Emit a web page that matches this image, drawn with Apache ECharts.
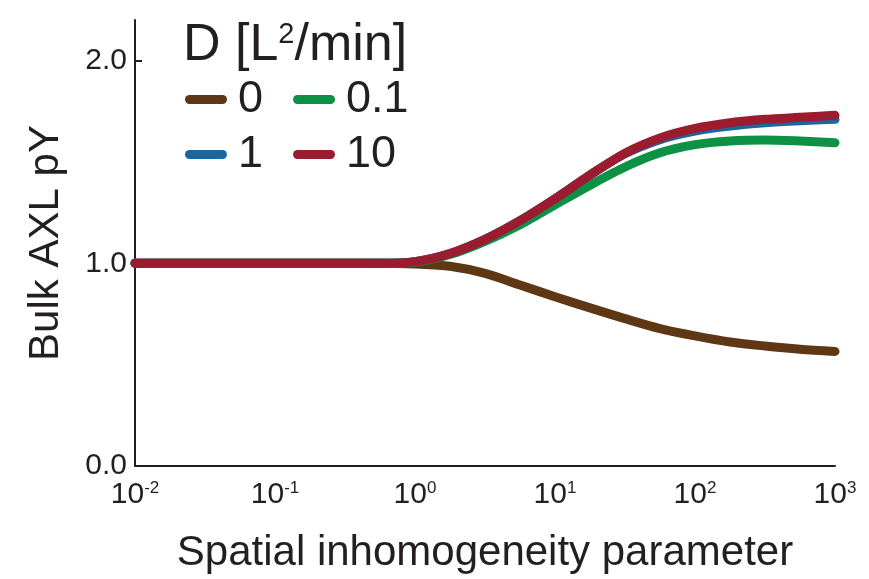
<!DOCTYPE html>
<html>
<head>
<meta charset="utf-8">
<script src="https://cdn.jsdelivr.net/npm/echarts@6/dist/echarts.min.js"></script>
<style>html,body{margin:0;padding:0;background:#fff;}#c{width:869px;height:579px;}</style>
</head>
<body>
<div id="c"></div>
<script>
var logX = [-2, -1.75, -1.5, -1.25, -1, -0.75, -0.5, -0.25, 0, 0.25, 0.5, 0.75, 1, 1.25, 1.5, 1.75, 2, 2.25, 2.5, 2.75, 3];
var d0   = [1, 1, 1, 1, 1, 1, 1, 1, 0.996, 0.985, 0.95, 0.893, 0.835, 0.78, 0.727, 0.678, 0.642, 0.612, 0.592, 0.576, 0.565];
var d01  = [1, 1, 1, 1, 1, 1, 1, 1, 1.006, 1.043, 1.108, 1.19, 1.288, 1.385, 1.475, 1.545, 1.585, 1.603, 1.608, 1.603, 1.595];
var d1   = [1, 1, 1, 1, 1, 1, 1, 1, 1.008, 1.048, 1.118, 1.21, 1.318, 1.435, 1.54, 1.61, 1.652, 1.677, 1.693, 1.703, 1.71];
var d10  = [1, 1, 1, 1, 1, 1, 1, 1, 1.008, 1.048, 1.118, 1.21, 1.318, 1.435, 1.543, 1.618, 1.665, 1.693, 1.71, 1.72, 1.73];
var seriesNames = ['0', '0.1', '1', '10'];
var yTicks = [0, 1, 2];
var xTicks = [0.01, 0.1, 1, 10, 100, 1000];

var colors = ['#5e3815', '#0d9144', '#1b65a0', '#9a1c2e'];
var dataSets = [d0, d01, d1, d10];
var FONT = 'Liberation Sans';

function pairs(ys) { return logX.map(function (lx, i) { return [Math.pow(10, lx), ys[i]]; }); }

var series = seriesNames.map(function (n, i) {
  return {
    name: n, type: 'line', data: pairs(dataSets[i]), showSymbol: false, smooth: 0.3,
    lineStyle: { width: 9, color: colors[i], cap: 'round', join: 'round' },
    itemStyle: { color: colors[i] }, z: 2 + i
  };
});

var capsule = 'path://M4.5,0 L37.5,0 A4.5,4.5 0 0 1 37.5,9 L4.5,9 A4.5,4.5 0 0 1 4.5,0 Z';
function legendAt(names, top) {
  return {
    data: names, left: 180, top: top, orient: 'horizontal', icon: capsule,
    itemWidth: 42, itemHeight: 9, itemGap: 30, selectedMode: false,
    textStyle: { fontFamily: FONT, fontSize: 45, color: '#231f20', padding: [0, 0, 0, 6] }
  };
}

var chart = echarts.init(document.getElementById('c'));
chart.setOption({
  animation: false,
  backgroundColor: '#fff',
  title: {
    text: 'D [L{s|2}/min]', left: 178, top: 15,
    textStyle: {
      fontFamily: FONT, fontSize: 52, fontWeight: 'normal', color: '#231f20',
      rich: { s: { fontFamily: FONT, fontSize: 29, verticalAlign: 'top', lineHeight: 52, padding: [0, 0, 20, 0] } }
    }
  },
  legend: [legendAt(['0', '0.1'], 72), legendAt(['1', '10'], 127)],
  grid: { left: 135, right: 34, top: 20, bottom: 105, containLabel: false },
  xAxis: {
    type: 'log', logBase: 10, min: 0.01, max: 1000,
    name: 'Spatial inhomogeneity parameter', nameLocation: 'middle', nameGap: 66,
    nameTextStyle: { fontFamily: FONT, fontSize: 42, color: '#231f20' },
    axisLine: { lineStyle: { color: '#231f20', width: 2 } },
    axisTick: { show: false },
    splitLine: { show: false },
    minorTick: { show: false },
    axisLabel: {
      margin: 14, color: '#231f20', fontFamily: FONT, fontSize: 30,
      customValues: xTicks,
      formatter: function (v) { var e = Math.round(Math.log10(v)); return '10{s|' + e + '}'; },
      rich: { s: { fontFamily: FONT, fontSize: 17, verticalAlign: 'top', lineHeight: 30, color: '#231f20' } }
    }
  },
  yAxis: {
    type: 'value', min: 0, max: 2.2, interval: 1,
    name: 'Bulk AXL pY', nameLocation: 'middle', nameGap: 68,
    nameTextStyle: { fontFamily: FONT, fontSize: 42, color: '#231f20' },
    axisLine: { show: true, lineStyle: { color: '#231f20', width: 2 } },
    axisTick: { show: true, inside: true, length: 7, customValues: yTicks, lineStyle: { color: '#231f20', width: 2 } },
    splitLine: { show: false },
    axisLabel: {
      margin: 8, color: '#231f20', fontFamily: FONT, fontSize: 30, customValues: yTicks,
      formatter: function (v) { return v.toFixed(1); }
    }
  },
  series: series
});
</script>
</body>
</html>
